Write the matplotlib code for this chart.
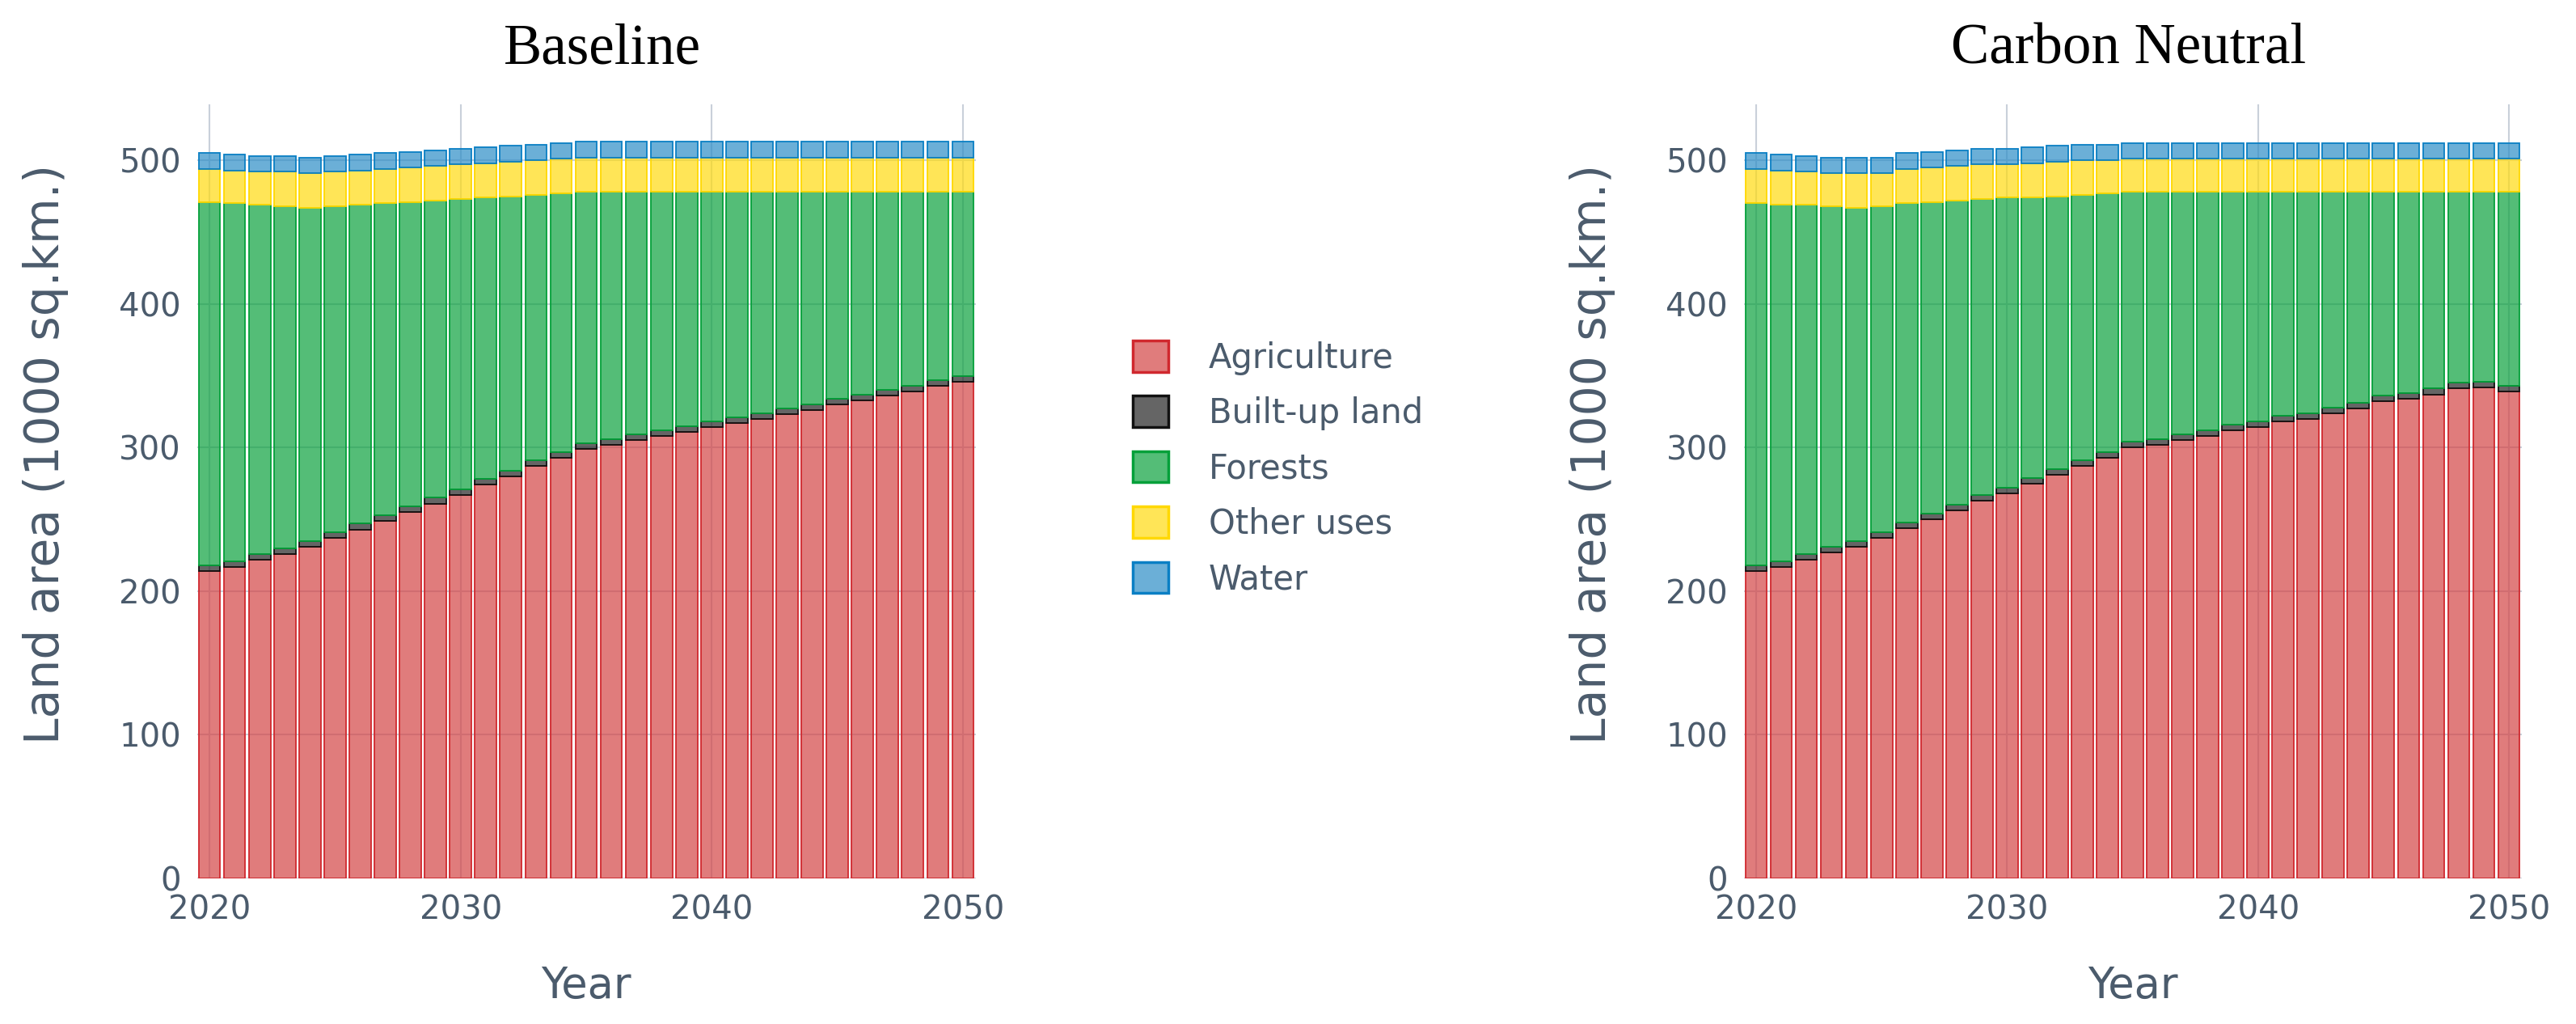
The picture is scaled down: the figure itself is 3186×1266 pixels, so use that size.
import numpy as np
from matplotlib import pyplot as plt
from matplotlib.colors import to_rgb
from matplotlib.patches import Patch

# years on the x axis
years = list(range(2020, 2051))

categories = ['Agriculture', 'Built-up land', 'Forests', 'Other uses', 'Water']

# Baseline scenario (1000 sq.km.)
base_agri = [214, 217, 222, 226, 231, 237, 243, 249, 255, 261, 267, 274, 280, 287, 293, 299,
             302, 305, 308, 311, 314, 317, 320, 323, 326, 330, 333, 336, 339, 343, 346]
base_built = [4, 4, 4, 4, 4, 4, 4, 4, 4, 4, 4, 4, 4, 4, 4, 4,
              4, 4, 4, 4, 4, 4, 4, 4, 4, 4, 4, 4, 4, 4, 4]
base_forest = [253, 249, 243, 238, 232, 227, 222, 217, 212, 207, 202, 196, 191, 185, 180, 175,
               172, 169, 166, 163, 160, 157, 154, 151, 148, 144, 141, 138, 135, 131, 128]
base_other = [23, 23, 23, 24, 24, 24, 24, 24, 24, 24, 24, 24, 24, 24, 24, 24,
              24, 24, 24, 24, 24, 24, 24, 24, 24, 24, 24, 24, 24, 24, 24]
base_water = [11, 11, 11, 11, 11, 11, 11, 11, 11, 11, 11, 11, 11, 11, 11, 11,
              11, 11, 11, 11, 11, 11, 11, 11, 11, 11, 11, 11, 11, 11, 11]

# Carbon Neutral scenario (1000 sq.km.)
cn_agri = [214, 217, 222, 227, 231, 237, 244, 250, 256, 263, 268, 275, 281, 287, 293, 300,
           302, 305, 308, 312, 314, 318, 320, 324, 327, 332, 334, 337, 341, 342, 339]
cn_built = [4, 4, 4, 4, 4, 4, 4, 4, 4, 4, 4, 4, 4, 4, 4, 4,
            4, 4, 4, 4, 4, 4, 4, 4, 4, 4, 4, 4, 4, 4, 4]
cn_forest = [252, 248, 243, 237, 232, 227, 222, 217, 212, 206, 202, 195, 190, 185, 180, 174,
             172, 169, 166, 162, 160, 156, 154, 150, 147, 142, 140, 137, 133, 132, 135]
cn_other = [24, 24, 23, 23, 24, 23, 24, 24, 24, 24, 23, 24, 24, 24, 23, 23,
            23, 23, 23, 23, 23, 23, 23, 23, 23, 23, 23, 23, 23, 23, 23]
cn_water = [11, 11, 11, 11, 11, 11, 11, 11, 11, 11, 11, 11, 11, 11, 11, 11,
            11, 11, 11, 11, 11, 11, 11, 11, 11, 11, 11, 11, 11, 11, 11]

# bar colours: semi-transparent fill (so grid shows through) and solid outline
fills = ['#d34445', '#242424', '#0ca13e', '#ffdb10', '#2c8dc7']
edges = ['#d0282e', '#111111', '#04a03a', '#ffd800', '#0a7fc4']
text_col = '#4b5b6c'
grid_col = '#c9d0da'

fig = plt.figure(figsize=(31.86, 12.66), dpi=100)


def draw(ax, series):
    bottom = np.zeros(len(years))
    for vals, fc, ec in zip(series, fills, edges):
        ax.bar(years, vals, bottom=bottom, width=0.86, facecolor=(*to_rgb(fc), 0.7),
               edgecolor=ec, linewidth=1.3, zorder=2)
        bottom += np.array(vals)
    ax.set_xlim(2019.5, 2050.5)
    ax.set_ylim(0, 539)
    ax.set_xticks([2020, 2030, 2040, 2050])
    ax.set_yticks([0, 100, 200, 300, 400, 500])
    ax.grid(True, color=grid_col, linewidth=1.5, zorder=0)
    ax.set_axisbelow(True)
    for s in ax.spines.values():
        s.set_visible(False)
    ax.tick_params(length=0, labelsize=29, colors=text_col, pad=14)
    ax.set_xlabel('Year', fontsize=38, color=text_col, labelpad=34)
    ax.set_ylabel('Land area (1000 sq.km.)', fontsize=42, color=text_col)
    ax.yaxis.set_label_coords(-0.165, 0.548)


ax1 = fig.add_axes([0.07643, 0.14218, 0.30226, 0.756])
draw(ax1, [base_agri, base_built, base_forest, base_other, base_water])
ax2 = fig.add_axes([0.67687, 0.14218, 0.30195, 0.756])
draw(ax2, [cn_agri, cn_built, cn_forest, cn_other, cn_water])

fig.text(0.2338, 0.952, 'Baseline', fontsize=51, family='Liberation Serif',
         ha='center', va='center')
fig.text(0.8264, 0.952, 'Carbon Neutral', fontsize=51, family='Liberation Serif',
         ha='center', va='center')

handles = [Patch(facecolor=(*to_rgb(fc), 0.7), edgecolor=ec, linewidth=2.5)
           for fc, ec in zip(fills, edges)]
fig.legend(handles, categories, loc='upper left', bbox_to_anchor=(0.428, 0.697),
           frameon=False, fontsize=30, labelcolor=text_col, handlelength=1.05,
           handleheight=1.05, handletextpad=1.2, labelspacing=0.62)

fig.savefig('out.png', dpi=100)
